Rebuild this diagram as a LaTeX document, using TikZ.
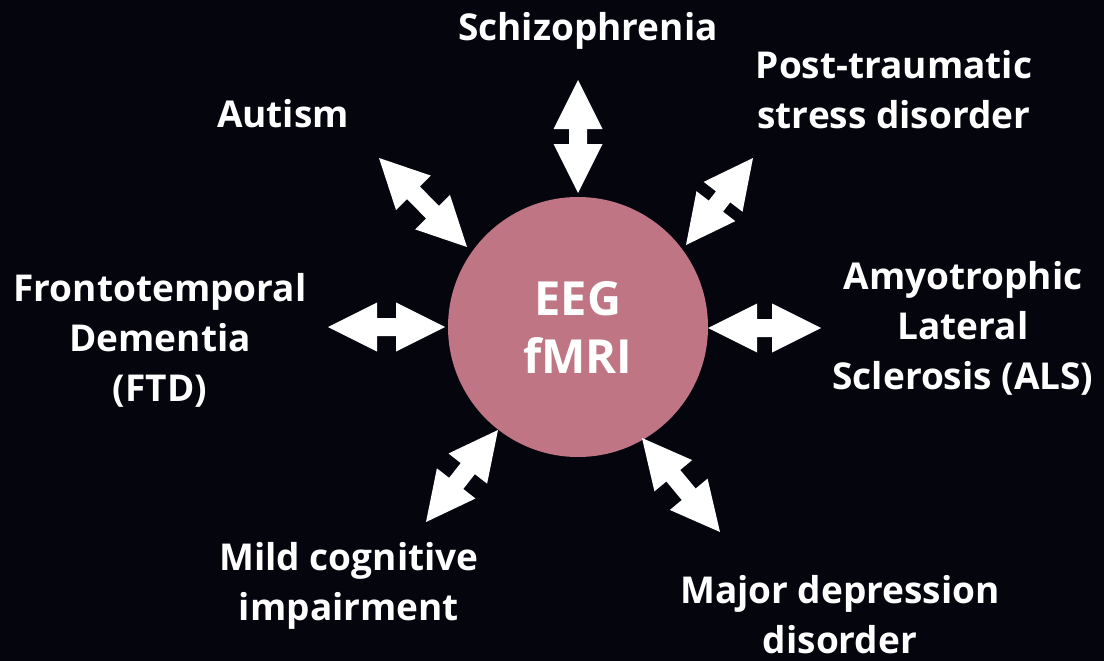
\documentclass[tikz,border=0pt]{standalone}
\usepackage{fontspec}
\setmainfont{Open Sans}
\usetikzlibrary{calc}

\begin{document}
\begin{tikzpicture}[x=1pt, y=-1pt,
    inner sep=0pt, outer sep=0pt,%
    disorder/.style={text=white, align=center, font=\fontsize{37}{50}\selectfont\bfseries},
    hub/.style={circle, fill=hubpink, minimum size=260pt, text=white, align=center,
        font=\fontsize{47}{58}\selectfont\bfseries},
    blockarrow/.style={fill=white},
]
    % Colors
    \definecolor{bgdark}{RGB}{5,5,14}
    \definecolor{hubpink}{RGB}{192,117,133}

    % Frame
    \fill[bgdark] (0,0) rectangle (1104,661);
    \useasboundingbox (0,0) rectangle (1104,661);

    % Hub
    \node[hub] (hub) at (578,327) {EEG\\fMRI};

    % Disorders around the hub
    \node[disorder] (schizo) at (588,31)  {Schizophrenia};
    \node[disorder] (autism) at (283,114) {Autism};
    \node[disorder] (ptsd)   at (894,90)  {Post-traumatic\\stress disorder};
    \node[disorder] (ftd)    at (160,340) {Frontotemporal\\Dementia\\(FTD)};
    \node[disorder] (als)    at (963,328) {Amyotrophic\\Lateral\\Sclerosis (ALS)};
    \node[disorder] (mci)    at (349,586) {Mild cognitive\\impairment};
    \node[disorder] (mdd)    at (840,615) {Major depression\\disorder};

    % Arrow ends (outer / inner)
    \coordinate (schO) at (578,80);  \coordinate (schI) at (578,193);
    \coordinate (autO) at (379,158); \coordinate (autI) at (467,247);
    \coordinate (ptsO) at (753,158); \coordinate (ptsI) at (686,245);
    \coordinate (ftdO) at (328,327); \coordinate (ftdI) at (445,327);
    \coordinate (alsO) at (821,328); \coordinate (alsI) at (708,328);
    \coordinate (mciO) at (426,522); \coordinate (mciI) at (498,430);
    \coordinate (mddO) at (720,532); \coordinate (mddI) at (642,438);

    % Double block arrows
    \foreach \o/\i in {schO/schI, autO/autI, ptsO/ptsI, ftdO/ftdI,
                       alsO/alsI, mciO/mciI, mddO/mddI}{
        \fill[blockarrow] (\o)
            -- ($(\o)!49pt!(\i)!24.5pt!90:(\i)$)
            -- ($(\o)!49pt!(\i)!9pt!90:(\i)$)
            -- ($(\i)!49pt!(\o)!9pt!-90:(\o)$)
            -- ($(\i)!49pt!(\o)!24.5pt!-90:(\o)$)
            -- (\i)
            -- ($(\i)!49pt!(\o)!24.5pt!90:(\o)$)
            -- ($(\i)!49pt!(\o)!9pt!90:(\o)$)
            -- ($(\o)!49pt!(\i)!9pt!-90:(\i)$)
            -- ($(\o)!49pt!(\i)!24.5pt!-90:(\i)$)
            -- cycle;
    }
\end{tikzpicture}
\end{document}
